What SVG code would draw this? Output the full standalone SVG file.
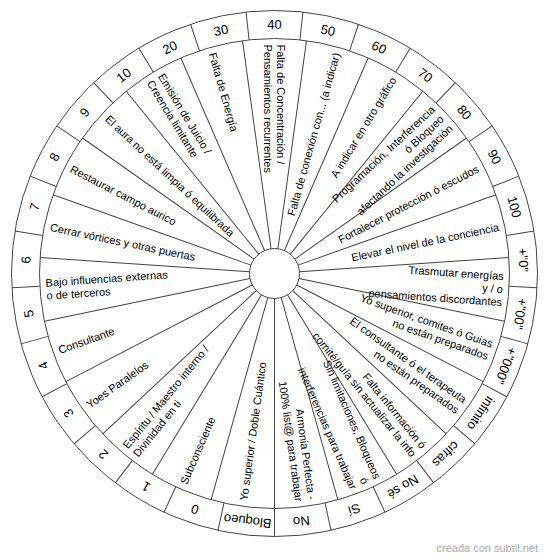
<svg xmlns="http://www.w3.org/2000/svg" width="550" height="560" viewBox="0 0 550 560">
<style>
.ln{stroke:#444;stroke-width:1;fill:none}
.o{font-family:"Liberation Sans",Arial,sans-serif;font-size:13px;fill:#000;text-anchor:middle;dominant-baseline:central}
.i{font-family:"Liberation Sans",Arial,sans-serif;font-size:11px;fill:#000;dominant-baseline:central}
.r{text-anchor:end}
.l{text-anchor:start}
</style>
<rect width="550" height="560" fill="#fff"/>
<g transform="translate(274.5 273.5)">
<g id="rings">
<circle class="ln" r="263"/>
<circle class="ln" r="235"/>
<circle class="ln" r="25"/>
</g>
<g id="connectors">
<g id="outer-dividers">
<line class="ln" x1="0" y1="-235" x2="0" y2="-263" transform="rotate(6.207)"/>
<line class="ln" x1="0" y1="-235" x2="0" y2="-263" transform="rotate(18.621)"/>
<line class="ln" x1="0" y1="-235" x2="0" y2="-263" transform="rotate(31.034)"/>
<line class="ln" x1="0" y1="-235" x2="0" y2="-263" transform="rotate(43.448)"/>
<line class="ln" x1="0" y1="-235" x2="0" y2="-263" transform="rotate(55.862)"/>
<line class="ln" x1="0" y1="-235" x2="0" y2="-263" transform="rotate(68.276)"/>
<line class="ln" x1="0" y1="-235" x2="0" y2="-263" transform="rotate(80.690)"/>
<line class="ln" x1="0" y1="-235" x2="0" y2="-263" transform="rotate(93.103)"/>
<line class="ln" x1="0" y1="-235" x2="0" y2="-263" transform="rotate(105.517)"/>
<line class="ln" x1="0" y1="-235" x2="0" y2="-263" transform="rotate(117.931)"/>
<line class="ln" x1="0" y1="-235" x2="0" y2="-263" transform="rotate(130.345)"/>
<line class="ln" x1="0" y1="-235" x2="0" y2="-263" transform="rotate(142.759)"/>
<line class="ln" x1="0" y1="-235" x2="0" y2="-263" transform="rotate(155.172)"/>
<line class="ln" x1="0" y1="-235" x2="0" y2="-263" transform="rotate(167.586)"/>
<line class="ln" x1="0" y1="-235" x2="0" y2="-263" transform="rotate(180)"/>
<line class="ln" x1="0" y1="-235" x2="0" y2="-263" transform="rotate(192.414)"/>
<line class="ln" x1="0" y1="-235" x2="0" y2="-263" transform="rotate(204.828)"/>
<line class="ln" x1="0" y1="-235" x2="0" y2="-263" transform="rotate(217.241)"/>
<line class="ln" x1="0" y1="-235" x2="0" y2="-263" transform="rotate(229.655)"/>
<line class="ln" x1="0" y1="-235" x2="0" y2="-263" transform="rotate(242.069)"/>
<line class="ln" x1="0" y1="-235" x2="0" y2="-263" transform="rotate(254.483)"/>
<line class="ln" x1="0" y1="-235" x2="0" y2="-263" transform="rotate(266.897)"/>
<line class="ln" x1="0" y1="-235" x2="0" y2="-263" transform="rotate(279.310)"/>
<line class="ln" x1="0" y1="-235" x2="0" y2="-263" transform="rotate(291.724)"/>
<line class="ln" x1="0" y1="-235" x2="0" y2="-263" transform="rotate(304.138)"/>
<line class="ln" x1="0" y1="-235" x2="0" y2="-263" transform="rotate(316.552)"/>
<line class="ln" x1="0" y1="-235" x2="0" y2="-263" transform="rotate(328.966)"/>
<line class="ln" x1="0" y1="-235" x2="0" y2="-263" transform="rotate(341.379)"/>
<line class="ln" x1="0" y1="-235" x2="0" y2="-263" transform="rotate(353.793)"/>
</g>
<g id="inner-dividers">
<line class="ln" x1="0" y1="-25" x2="0" y2="-235" transform="rotate(7.826)"/>
<line class="ln" x1="0" y1="-25" x2="0" y2="-235" transform="rotate(23.478)"/>
<line class="ln" x1="0" y1="-25" x2="0" y2="-235" transform="rotate(39.130)"/>
<line class="ln" x1="0" y1="-25" x2="0" y2="-235" transform="rotate(54.783)"/>
<line class="ln" x1="0" y1="-25" x2="0" y2="-235" transform="rotate(70.435)"/>
<line class="ln" x1="0" y1="-25" x2="0" y2="-235" transform="rotate(86.087)"/>
<line class="ln" x1="0" y1="-25" x2="0" y2="-235" transform="rotate(101.739)"/>
<line class="ln" x1="0" y1="-25" x2="0" y2="-235" transform="rotate(117.391)"/>
<line class="ln" x1="0" y1="-25" x2="0" y2="-235" transform="rotate(133.043)"/>
<line class="ln" x1="0" y1="-25" x2="0" y2="-235" transform="rotate(148.696)"/>
<line class="ln" x1="0" y1="-25" x2="0" y2="-235" transform="rotate(164.348)"/>
<line class="ln" x1="0" y1="-25" x2="0" y2="-235" transform="rotate(180)"/>
<line class="ln" x1="0" y1="-25" x2="0" y2="-235" transform="rotate(195.652)"/>
<line class="ln" x1="0" y1="-25" x2="0" y2="-235" transform="rotate(211.304)"/>
<line class="ln" x1="0" y1="-25" x2="0" y2="-235" transform="rotate(226.957)"/>
<line class="ln" x1="0" y1="-25" x2="0" y2="-235" transform="rotate(242.609)"/>
<line class="ln" x1="0" y1="-25" x2="0" y2="-235" transform="rotate(258.261)"/>
<line class="ln" x1="0" y1="-25" x2="0" y2="-235" transform="rotate(273.913)"/>
<line class="ln" x1="0" y1="-25" x2="0" y2="-235" transform="rotate(289.565)"/>
<line class="ln" x1="0" y1="-25" x2="0" y2="-235" transform="rotate(305.217)"/>
<line class="ln" x1="0" y1="-25" x2="0" y2="-235" transform="rotate(320.870)"/>
<line class="ln" x1="0" y1="-25" x2="0" y2="-235" transform="rotate(336.522)"/>
<line class="ln" x1="0" y1="-25" x2="0" y2="-235" transform="rotate(352.174)"/>
</g>
</g>
<g id="outer-labels">
<g id="o40" transform="rotate(0)"><text class="o" x="0" y="-249">40</text></g>
<g id="o50" transform="rotate(12.414)"><text class="o" x="0" y="-249">50</text></g>
<g id="o60" transform="rotate(24.828)"><text class="o" x="0" y="-249">60</text></g>
<g id="o70" transform="rotate(37.241)"><text class="o" x="0" y="-249">70</text></g>
<g id="o80" transform="rotate(49.655)"><text class="o" x="0" y="-249">80</text></g>
<g id="o90" transform="rotate(62.069)"><text class="o" x="0" y="-249">90</text></g>
<g id="o100" transform="rotate(74.483)"><text class="o" x="0" y="-249">100</text></g>
<g id="o0plus" transform="rotate(86.897)"><text class="o" x="0" y="-249">+"0"</text></g>
<g id="o00plus" transform="rotate(99.310)"><text class="o" x="0" y="-249">+"00"</text></g>
<g id="o000plus" transform="rotate(111.724)"><text class="o" x="0" y="-249">+"000"</text></g>
<g id="oinfinito" transform="rotate(124.138)"><text class="o" x="0" y="-249">infinito</text></g>
<g id="ocifras" transform="rotate(136.552)"><text class="o" x="0" y="-249">cifras</text></g>
<g id="onose" transform="rotate(148.966)"><text class="o" x="0" y="-249">No sé</text></g>
<g id="osi" transform="rotate(161.379)"><text class="o" x="0" y="-249">Sí</text></g>
<g id="ono" transform="rotate(173.793)"><text class="o" x="0" y="-249">No</text></g>
<g id="obloqueo" transform="rotate(186.207)"><text class="o" x="0" y="-249">Bloqueo</text></g>
<g id="o0" transform="rotate(198.621)"><text class="o" x="0" y="-249">0</text></g>
<g id="o1" transform="rotate(211.034)"><text class="o" x="0" y="-249">1</text></g>
<g id="o2" transform="rotate(223.448)"><text class="o" x="0" y="-249">2</text></g>
<g id="o3" transform="rotate(235.862)"><text class="o" x="0" y="-249">3</text></g>
<g id="o4" transform="rotate(248.276)"><text class="o" x="0" y="-249">4</text></g>
<g id="o5" transform="rotate(260.690)"><text class="o" x="0" y="-249">5</text></g>
<g id="o6" transform="rotate(273.103)"><text class="o" x="0" y="-249">6</text></g>
<g id="o7" transform="rotate(285.517)"><text class="o" x="0" y="-249">7</text></g>
<g id="o8" transform="rotate(297.931)"><text class="o" x="0" y="-249">8</text></g>
<g id="o9" transform="rotate(310.345)"><text class="o" x="0" y="-249">9</text></g>
<g id="o10" transform="rotate(322.759)"><text class="o" x="0" y="-249">10</text></g>
<g id="o20" transform="rotate(335.172)"><text class="o" x="0" y="-249">20</text></g>
<g id="o30" transform="rotate(347.586)"><text class="o" x="0" y="-249">30</text></g>
</g>
<g id="inner-labels">
<g id="n1" transform="rotate(58.696)"><text class="i l"><tspan x="-229" y="-6.5">Emisión de Juicio /</tspan><tspan x="-229" y="6.5">Creencia limitante</tspan></text></g>
<g id="n2" transform="rotate(74.348)"><text class="i l" x="-229" y="0">Falta de Energía</text></g>
<g id="n3" transform="rotate(90)"><text class="i l"><tspan x="-229" y="-6.5">Falta de Concentración /</tspan><tspan x="-229" y="6.5">Pensamientos recurrentes</tspan></text></g>
<g id="n4" transform="rotate(-74.348)"><text class="i r" x="229" y="0">Falta de conexión con... (a indicar)</text></g>
<g id="n5" transform="rotate(-58.696)"><text class="i r" x="229" y="0">A indicar en otro gráfico</text></g>
<g id="n6" transform="rotate(-43.043)"><text class="i r"><tspan x="229" y="-13">Programación, Interferencia</tspan><tspan x="229" y="0">ó Bloqueo</tspan><tspan x="229" y="13">afectando la investigación</tspan></text></g>
<g id="n7" transform="rotate(-27.391)"><text class="i r" x="229" y="0">Fortalecer protección ó escudos</text></g>
<g id="n8" transform="rotate(-11.739)"><text class="i r" x="229" y="0">Elevar el nivel de la conciencia</text></g>
<g id="n9" transform="rotate(3.913)"><text class="i r"><tspan x="229" y="-13">Trasmutar energías</tspan><tspan x="229" y="0">y / o</tspan><tspan x="229" y="13">pensamientos discordantes</tspan></text></g>
<g id="n10" transform="rotate(19.565)"><text class="i r"><tspan x="229" y="-6.5">Yo superior, comites ó Guias</tspan><tspan x="229" y="6.5">no están preparados</tspan></text></g>
<g id="n11" transform="rotate(35.217)"><text class="i r"><tspan x="229" y="-6.5">El consultante ó el terapeuta</tspan><tspan x="229" y="6.5">no están preparados</tspan></text></g>
<g id="n12" transform="rotate(50.870)"><text class="i r"><tspan x="229" y="-6.5">Falta información ó</tspan><tspan x="229" y="6.5">comité/guía sin actualizar la info</tspan></text></g>
<g id="n13" transform="rotate(66.522)"><text class="i r"><tspan x="229" y="-13">Sin limitaciones, Bloqueos</tspan><tspan x="229" y="0">ó</tspan><tspan x="229" y="13">interferencias para trabajar</tspan></text></g>
<g id="n14" transform="rotate(82.174)"><text class="i r"><tspan x="229" y="-6.5">Armonia Perfecta -</tspan><tspan x="229" y="6.5">100% list@ para trabajar</tspan></text></g>
<g id="n15" transform="rotate(277.826)"><text class="i l" x="-229" y="0">Yo superior / Doble Cuántico</text></g>
<g id="n16" transform="rotate(293.478)"><text class="i l" x="-229" y="0">Subconsciente</text></g>
<g id="n17" transform="rotate(309.130)"><text class="i l"><tspan x="-229" y="-6.5">Espíritu / Maestro interno /</tspan><tspan x="-229" y="6.5">Divinidad en ti</tspan></text></g>
<g id="n18" transform="rotate(324.783)"><text class="i l" x="-229" y="0">Yoes Paralelos</text></g>
<g id="n19" transform="rotate(340.435)"><text class="i l" x="-229" y="0">Consultante</text></g>
<g id="n20" transform="rotate(356.087)"><text class="i l"><tspan x="-229" y="-6.5">Bajo influencias externas</tspan><tspan x="-229" y="6.5">o de terceros</tspan></text></g>
<g id="n21" transform="rotate(11.739)"><text class="i l" x="-229" y="0">Cerrar vórtices y otras puertas</text></g>
<g id="n22" transform="rotate(27.391)"><text class="i l" x="-229" y="0">Restaurar campo aurico</text></g>
<g id="n23" transform="rotate(43.043)"><text class="i l" x="-229" y="0">El aura no está limpia ó equilibrada</text></g>
</g>
</g>
<text x="538" y="552" text-anchor="end" font-family="'Liberation Sans',Arial,sans-serif" font-size="11" fill="#aaa">creada con subtil.net</text>
</svg>
